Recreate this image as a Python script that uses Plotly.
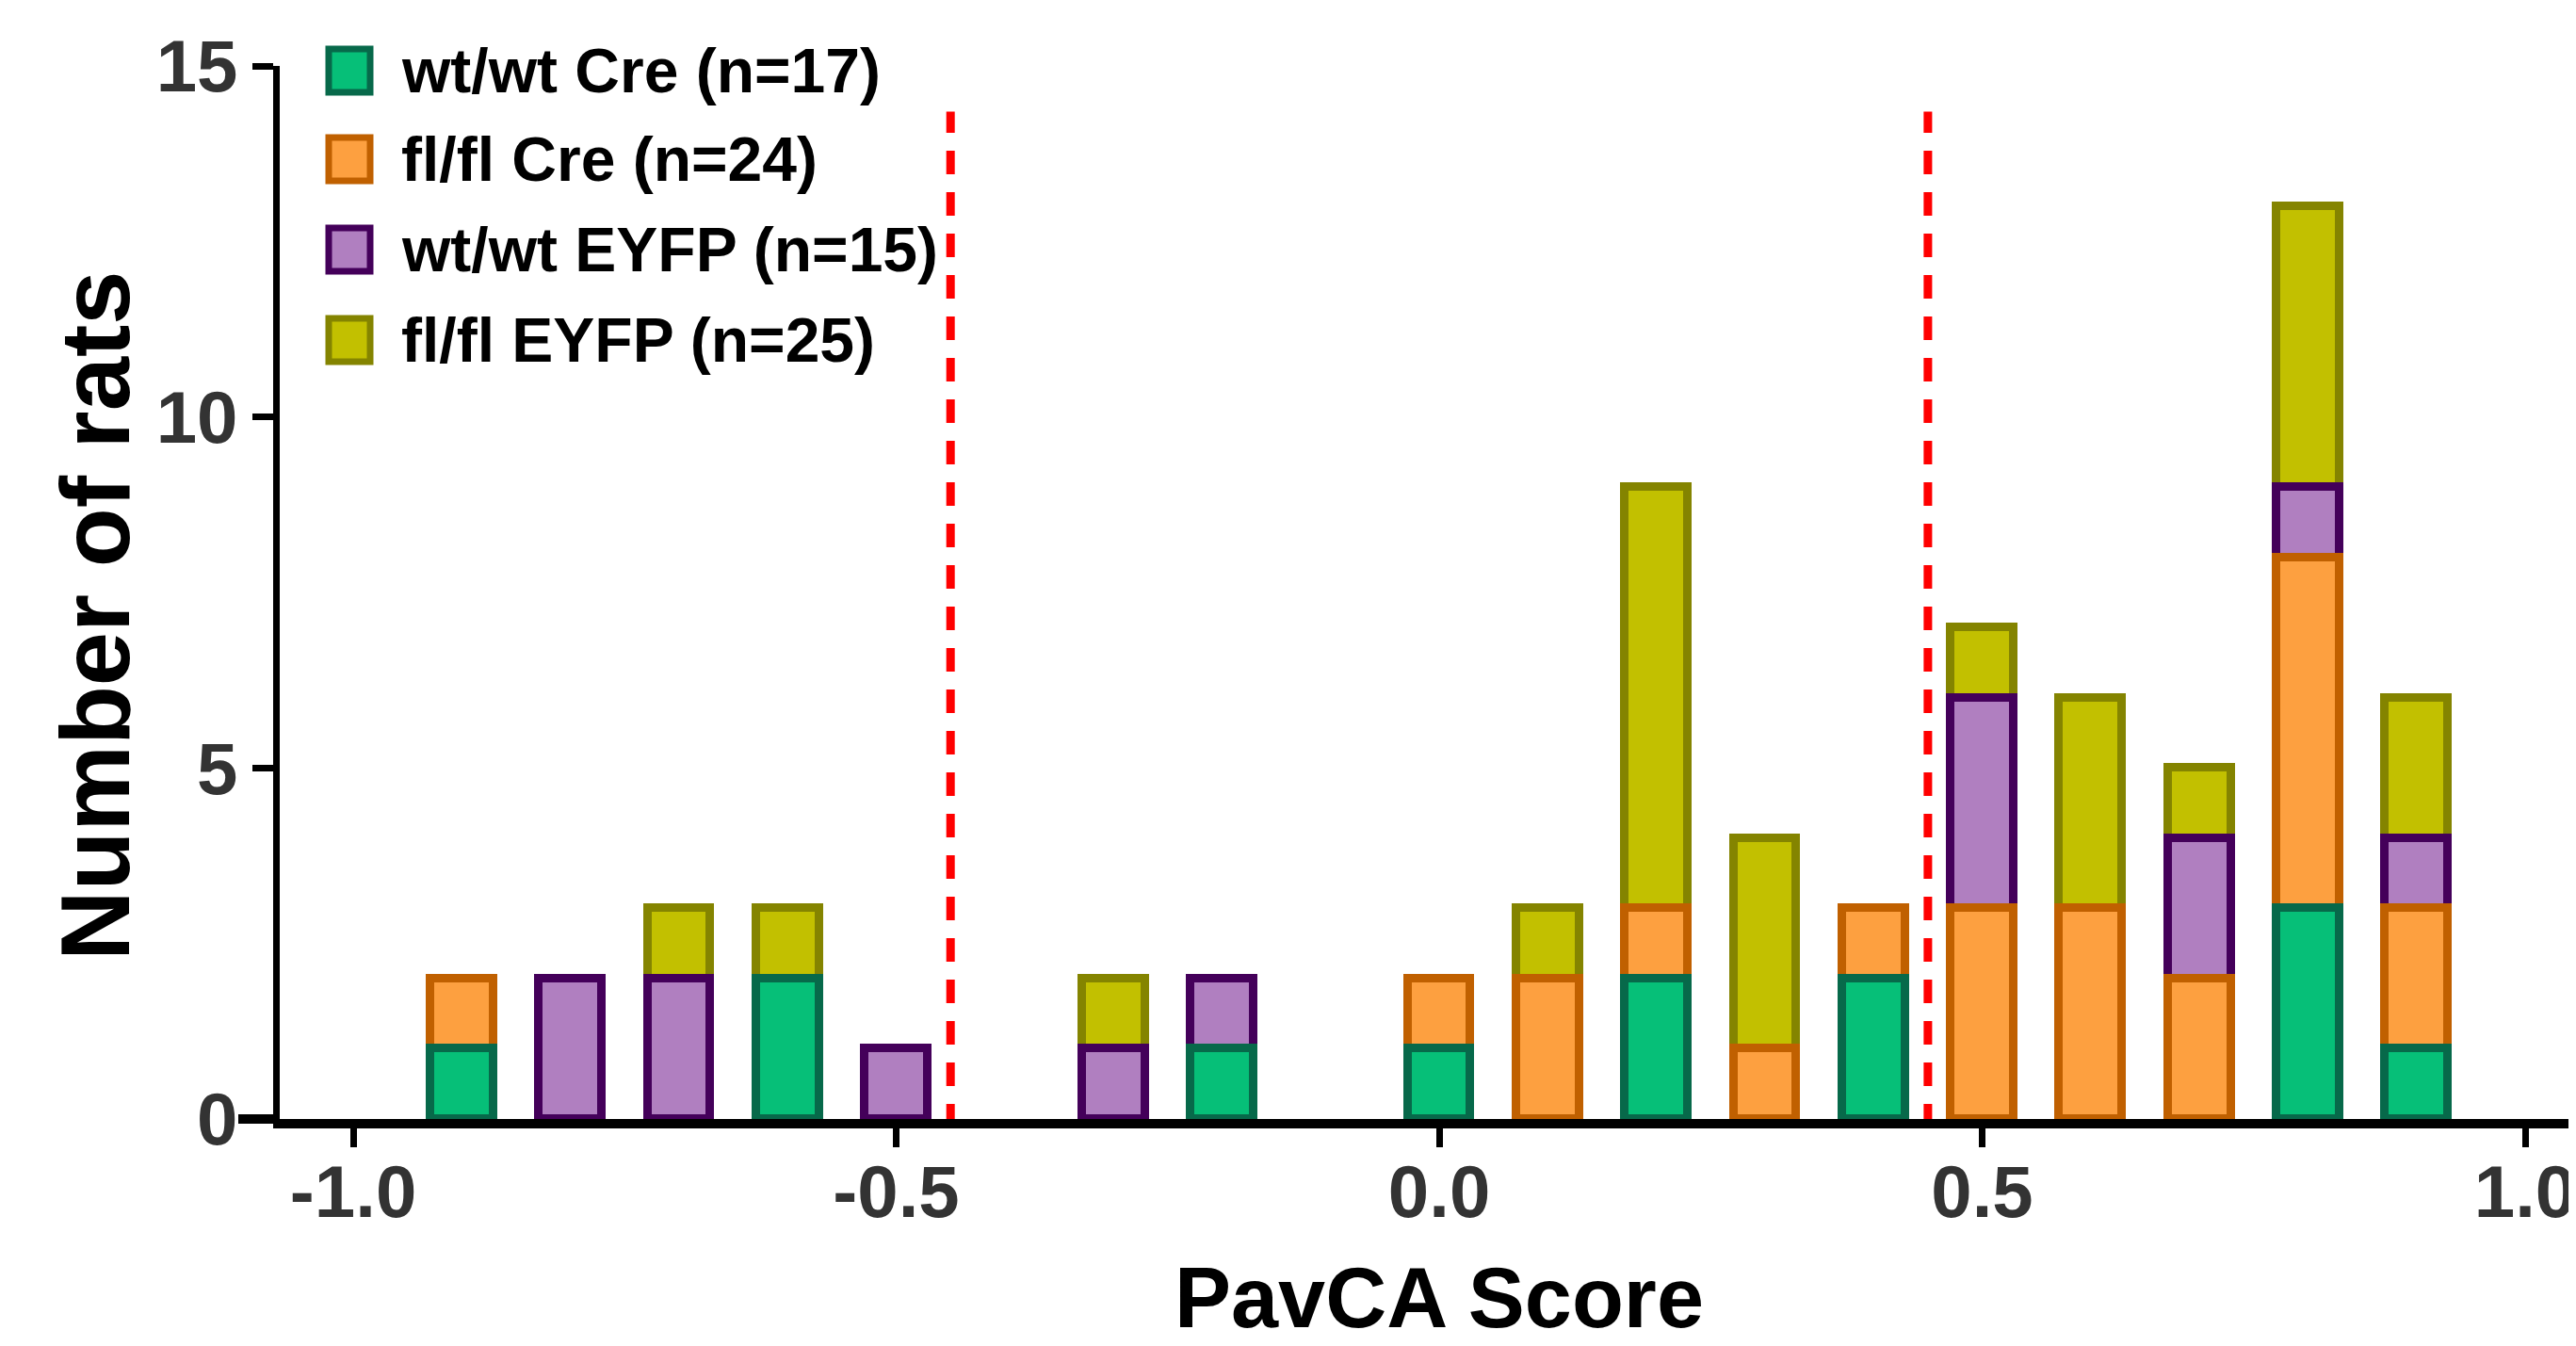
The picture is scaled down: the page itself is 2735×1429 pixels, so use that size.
import plotly.graph_objects as go

# ---------------- data ----------------
bin_centers = [-0.9, -0.8, -0.7, -0.6, -0.5, -0.3, -0.2, 0.0, 0.1, 0.2, 0.3, 0.4, 0.5, 0.6, 0.7, 0.8, 0.9]
wt_cre =      [1, 0, 0, 2, 0, 0, 1, 1, 0, 2, 0, 2, 0, 0, 0, 3, 1]
fl_cre =      [1, 0, 0, 0, 0, 0, 0, 1, 2, 1, 1, 1, 3, 3, 2, 5, 2]
wt_eyfp =     [0, 2, 2, 0, 1, 1, 1, 0, 0, 0, 0, 0, 3, 0, 2, 1, 1]
fl_eyfp =     [0, 0, 1, 1, 0, 1, 0, 0, 1, 6, 3, 0, 1, 3, 1, 4, 2]
series_names = ["wt/wt Cre (n=17)", "fl/fl Cre (n=24)", "wt/wt EYFP (n=15)", "fl/fl EYFP (n=25)"]
cutoffs = [-0.45, 0.45]
x_tickvals = [-1.0, -0.5, 0.0, 0.5, 1.0]
x_ticktext = ["-1.0", "-0.5", "0.0", "0.5", "1.0"]
y_tickvals = [0, 5, 10, 15]
y_ticktext = ["0", "5", "10", "15"]

fills = ["#06BF78", "#FDA040", "#B07FC0", "#C2C000"]
borders = ["#07694A", "#C06000", "#44005A", "#848400"]

# ---------------- layout geometry ----------------
OFF = 8  # page body margin
W, H = 2735, 1429
# screen-pixel positions of the plot area in the reference
SX0, SX1, SY0, SY1 = 297, 2735, 70, 1188
L = SX0 - OFF
T = SY0 - OFF
R = W - (SX1 - OFF)
B = H - (SY1 - OFF)
pw, ph = W - L - R, H - T - B


def px(x):
    return (x - SX0) / pw


def py(y):
    return (SY1 - y) / ph


FONT = "Liberation Sans, Arial, sans-serif"

# stacked bars: compute bases, draw top series first so lower segments' borders sit on top
all_series = [wt_cre, fl_cre, wt_eyfp, fl_eyfp]
bases = []
running = [0] * len(bin_centers)
for vals in all_series:
    bases.append(list(running))
    running = [r + v for r, v in zip(running, vals)]

fig = go.Figure()
for i in reversed(range(len(all_series))):
    vals = all_series[i]
    fig.add_trace(go.Bar(
        x=bin_centers,
        y=[v if v else None for v in vals],
        base=bases[i],
        name=series_names[i],
        width=0.058,
        marker=dict(color=fills[i], line=dict(color=borders[i], width=9)),
        showlegend=False,
    ))

# red dashed cutoff lines
for c in cutoffs:
    fig.add_shape(type="line", xref="x", yref="y", x0=c, x1=c, y0=-0.12, y1=14.35,
                  line=dict(color="#FF0000", width=9, dash="25px,19px"), layer="above")

# x-axis line extension to the left of the y axis
fig.add_shape(type="line", xref="paper", yref="paper", x0=px(253), x1=0, y0=0, y1=0,
              line=dict(color="black", width=10))

# manual legend
legend_y = [75, 169, 265, 361]
for name, fc, bc, ly in zip(series_names, fills, borders, legend_y):
    fig.add_shape(type="rect", xref="paper", yref="paper",
                  x0=px(349), x1=px(393), y0=py(ly + 23), y1=py(ly - 23),
                  fillcolor=fc, line=dict(color=bc, width=7))
    fig.add_annotation(xref="paper", yref="paper", x=px(424), y=py(ly),
                       xanchor="left", yanchor="middle", showarrow=False, text=name,
                       font=dict(family=FONT, size=66, color="black", weight="bold"))

# axis titles
fig.add_annotation(xref="paper", yref="paper", x=px(1528), y=py(1378), xanchor="center", yanchor="middle",
                   showarrow=False, text="PavCA Score",
                   font=dict(family=FONT, size=90, color="black", weight="bold"))
fig.add_annotation(xref="paper", yref="paper", x=px(101), y=py(654), xanchor="center", yanchor="middle",
                   showarrow=False, text="Number of rats", textangle=-90,
                   font=dict(family=FONT, size=103, color="black", weight="bold"))

fig.update_layout(
    width=W, height=H,
    margin=dict(l=L, r=R, t=T, b=B, pad=0),
    barmode="overlay",
    bargap=0,
    plot_bgcolor="white", paper_bgcolor="white",
    xaxis=dict(range=[-1.0677, 1.0468], tickvals=x_tickvals, ticktext=x_ticktext,
               showgrid=False, zeroline=False, showline=True, linecolor="black", linewidth=10,
               ticks="outside", ticklen=20, tickwidth=7, tickcolor="black",
               ticklabelstandoff=-20,
               tickfont=dict(family=FONT, size=78, color="#333333", weight="bold")),
    yaxis=dict(range=[0, 15], tickvals=y_tickvals, ticktext=y_ticktext,
               showgrid=False, zeroline=False, showline=True, linecolor="black", linewidth=7,
               ticks="outside", ticklen=22, tickwidth=7, tickcolor="black",
               tickfont=dict(family=FONT, size=78, color="#333333", weight="bold")),
)

fig.write_html("out.html")
